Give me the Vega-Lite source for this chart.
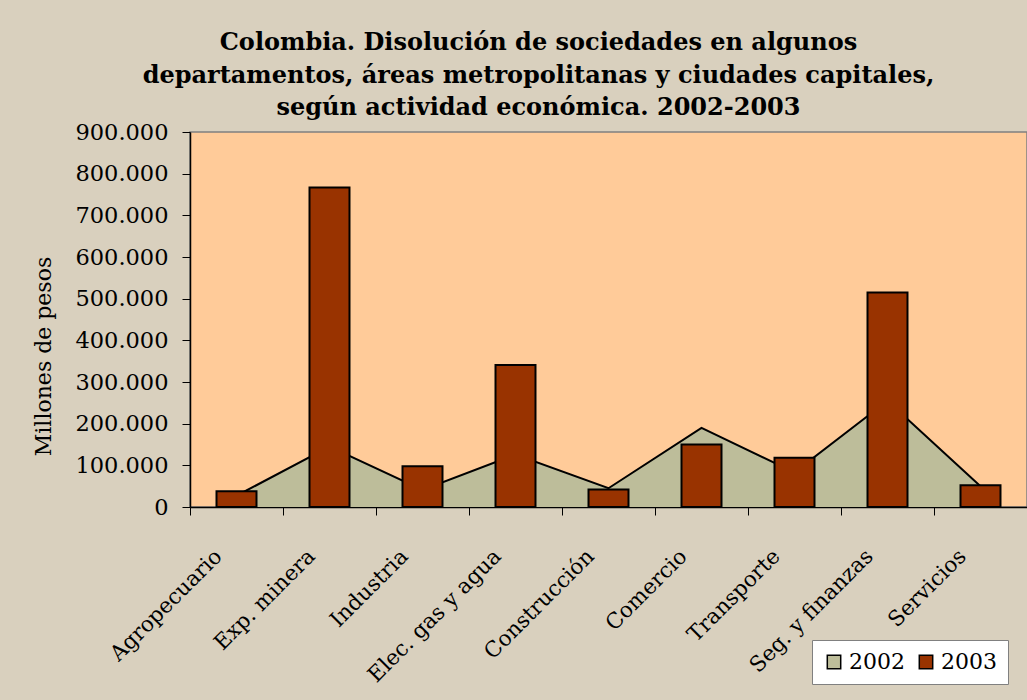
{
  "$schema": "https://vega.github.io/schema/vega-lite/v6.json",
  "width": 837,
  "height": 375,
  "autosize": {"type": "none"},
  "padding": {"left": 190, "top": 132, "right": 0, "bottom": 193},
  "background": "#d9d0be",
  "title": {
    "text": ["Colombia. Disolución de sociedades en algunos", "departamentos, áreas metropolitanas y ciudades capitales,", "según actividad económica. 2002-2003"],
    "font": "DejaVu Serif",
    "fontSize": 24,
    "fontWeight": "bold",
    "lineHeight": 32.5,
    "anchor": "middle",
    "dx": -70,
    "dy": 37,
    "offset": 14,
    "color": "black",
    "baseline": "bottom"
  },
  "data": {
    "values": [
      {"sector": "Agropecuario", "anio": "2002", "valor": 27000},
      {"sector": "Exp. minera", "anio": "2002", "valor": 145000},
      {"sector": "Industria", "anio": "2002", "valor": 41000},
      {"sector": "Elec. gas y agua", "anio": "2002", "valor": 126000},
      {"sector": "Construcción", "anio": "2002", "valor": 45000},
      {"sector": "Comercio", "anio": "2002", "valor": 190000},
      {"sector": "Transporte", "anio": "2002", "valor": 83000},
      {"sector": "Seg. y finanzas", "anio": "2002", "valor": 255000},
      {"sector": "Servicios", "anio": "2002", "valor": 50000},
      {"sector": "Agropecuario", "anio": "2003", "valor": 38000},
      {"sector": "Exp. minera", "anio": "2003", "valor": 767000},
      {"sector": "Industria", "anio": "2003", "valor": 98000},
      {"sector": "Elec. gas y agua", "anio": "2003", "valor": 341000},
      {"sector": "Construcción", "anio": "2003", "valor": 42000},
      {"sector": "Comercio", "anio": "2003", "valor": 150000},
      {"sector": "Transporte", "anio": "2003", "valor": 118000},
      {"sector": "Seg. y finanzas", "anio": "2003", "valor": 515000},
      {"sector": "Servicios", "anio": "2003", "valor": 52000}
    ]
  },
  "encoding": {
    "y": {
      "field": "valor",
      "type": "quantitative",
      "scale": {"domain": [0, 900000], "nice": false},
      "title": "Millones de pesos",
      "axis": {
        "values": [0, 100000, 200000, 300000, 400000, 500000, 600000, 700000, 800000, 900000],
        "labelExpr": "replace(format(datum.value, ','), ',', '.')",
        "labelFont": "DejaVu Serif",
        "labelFontSize": 22.5,
        "labelColor": "black",
        "labelPadding": 14,
        "tickColor": "black",
        "tickSize": 8,
        "domainColor": "black",
        "domainWidth": 1.5,
        "grid": false,
        "titleFont": "DejaVu Serif",
        "titleFontSize": 22,
        "titleFontWeight": "normal",
        "titleColor": "black",
        "titleX": -147,
        "titleY": 224,
        "titleAngle": -90,
        "titleAlign": "center",
        "titleBaseline": "middle"
      }
    }
  },
  "layer": [
    {
      "transform": [{"filter": "datum.anio == '2002'"}],
      "mark": {"type": "area", "opacity": 1},
      "encoding": {
        "x": {
          "field": "sector", "type": "nominal", "sort": null, "bandPosition": 0.5,
          "scale": {"type": "band", "paddingInner": 0, "paddingOuter": 0},
          "title": null,
          "axis": {
            "tickBand": "extent",
            "labelAngle": -45,
            "labelAlign": "right",
            "labelBaseline": "middle",
            "labelOffset": -18,
            "labelPadding": 38,
            "tickSize": 8,
            "tickColor": "black",
            "domainColor": "black",
            "domainWidth": 1.5,
            "labelFont": "DejaVu Serif",
            "labelFontSize": 21.5,
            "labelColor": "black",
            "labelOverlap": false,
            "labelBound": false,
            "labelFlush": false,
            "grid": false
          }
        },
        "color": {
          "field": "anio", "type": "nominal",
          "scale": {"domain": ["2002", "2003"], "range": ["#bdbd9a", "#993300"]},
          "legend": {
            "title": null,
            "orient": "none",
            "legendX": 622,
            "legendY": 508,
            "direction": "horizontal",
            "fillColor": "white",
            "strokeColor": "#808080",
            "padding": 11,
            "symbolType": "square",
            "symbolSize": 180,
            "symbolStrokeColor": "black",
            "symbolStrokeWidth": 1.5,
            "symbolOpacity": 1,
            "labelFont": "DejaVu Serif",
            "labelFontSize": 22,
            "labelColor": "black",
            "columnPadding": 10
          }
        }
      }
    },
    {
      "transform": [{"filter": "datum.anio == '2002'"}],
      "mark": {"type": "line", "color": "black", "strokeWidth": 2},
      "encoding": {
        "x": {"field": "sector", "type": "nominal", "sort": null, "bandPosition": 0.5}
      }
    },
    {
      "transform": [{"filter": "datum.anio == '2003'"}],
      "mark": {"type": "bar", "width": {"band": 0.43}, "stroke": "black", "strokeWidth": 2},
      "encoding": {
        "x": {"field": "sector", "type": "nominal", "sort": null},
        "color": {
          "field": "anio", "type": "nominal",
          "scale": {"domain": ["2002", "2003"], "range": ["#bdbd9a", "#993300"]}
        }
      }
    }
  ],
  "config": {
    "view": {"fill": "#ffcb99", "stroke": "#808080", "strokeWidth": 1.5}
  }
}
